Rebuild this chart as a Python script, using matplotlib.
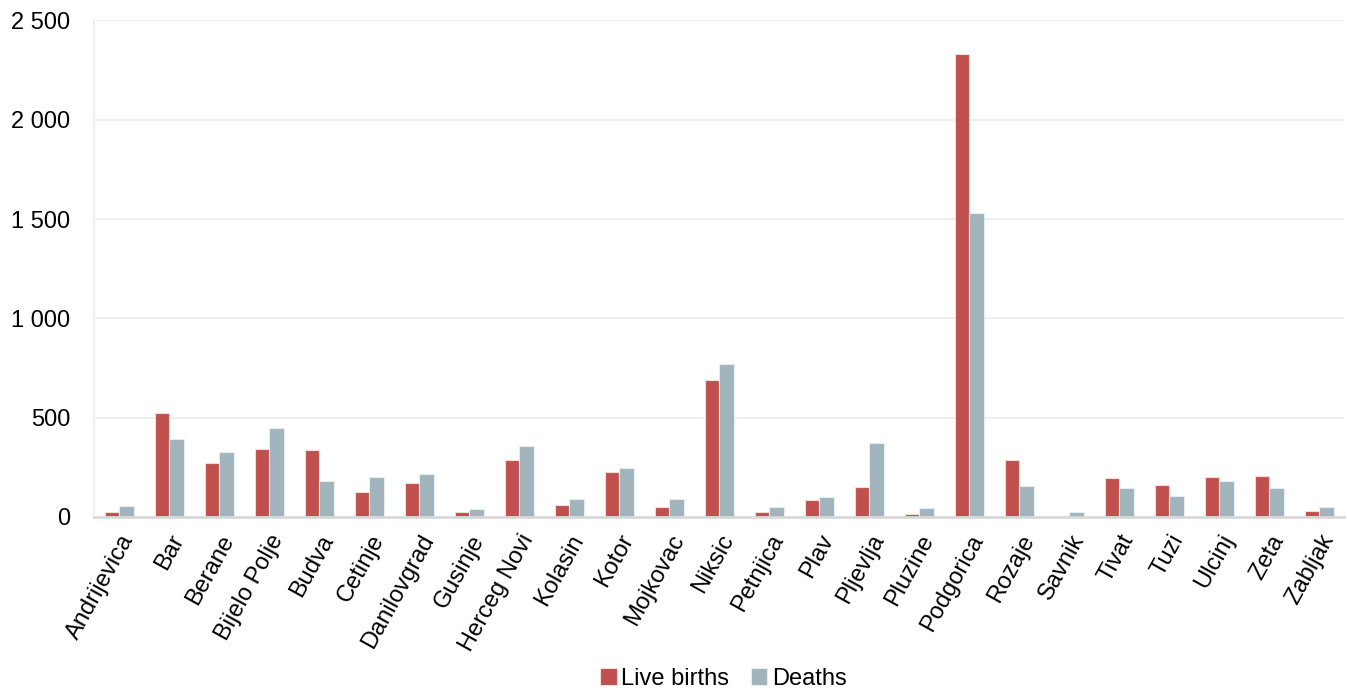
import matplotlib.pyplot as plt
import numpy as np

plt.rcParams['font.family'] = ['Liberation Sans', 'DejaVu Sans']

municipalities = ["Andrijevica", "Bar", "Berane", "Bijelo Polje", "Budva", "Cetinje",
                  "Danilovgrad", "Gusinje", "Herceg Novi", "Kolasin", "Kotor", "Mojkovac",
                  "Niksic", "Petnjica", "Plav", "Pljevlja", "Pluzine", "Podgorica",
                  "Rozaje", "Savnik", "Tivat", "Tuzi", "Ulcinj", "Zeta", "Zabljak"]
live_births = [24, 522, 270, 342, 336, 128, 171, 24, 287, 60, 228, 52,
               692, 27, 86, 153, 15, 2331, 285, 3, 195, 159, 200, 206, 29]
deaths = [57, 394, 327, 450, 181, 201, 217, 39, 358, 89, 247, 89,
          770, 50, 101, 371, 44, 1531, 156, 24, 146, 107, 181, 146, 50]
yticks = [0, 500, 1000, 1500, 2000, 2500]
ytick_labels = ["0", "500", "1 000", "1 500", "2 000", "2 500"]

fig = plt.figure(figsize=(13.47, 6.92), dpi=100)
ax = fig.add_axes([0.0698, 0.2529, 0.928, 0.7175])

x = np.arange(len(municipalities))
w = 0.29
ax.bar(x - w / 2, live_births, w, color="#c0504d", edgecolor="#f2dcdb", linewidth=0.8,
       label="Live births", zorder=3)
ax.bar(x + w / 2, deaths, w, color="#a2b4bb", edgecolor="#e6edf0", linewidth=0.8,
       label="Deaths", zorder=3)

ax.set_xlim(-0.5, len(municipalities) - 0.5)
ax.set_ylim(0, 2500)
ax.set_yticks(yticks)
ax.set_yticklabels(ytick_labels, fontsize=17)
ax.set_xticks(x)
ax.set_xticklabels(municipalities, fontsize=17, rotation=61, ha="right",
                   rotation_mode="anchor")
ax.tick_params(axis="x", length=0, pad=10)
ax.tick_params(axis="y", length=0, pad=17)

ax.grid(axis="y", color="#eeeeee", linewidth=1.3, zorder=0)
for s in ["top", "right"]:
    ax.spines[s].set_visible(False)
ax.spines["left"].set_color("#eeeeee")
ax.spines["left"].set_linewidth(1.3)
ax.spines["bottom"].set_color("#d9d9d9")
ax.spines["bottom"].set_linewidth(2)
ax.spines["bottom"].set_zorder(4)

fig.legend(loc="center", bbox_to_anchor=(0.537, 0.019), ncol=2, frameon=False,
           fontsize=17, handlelength=0.7, handleheight=0.7, handletextpad=0.2,
           columnspacing=0.9)

plt.savefig("out.png", dpi=100)
